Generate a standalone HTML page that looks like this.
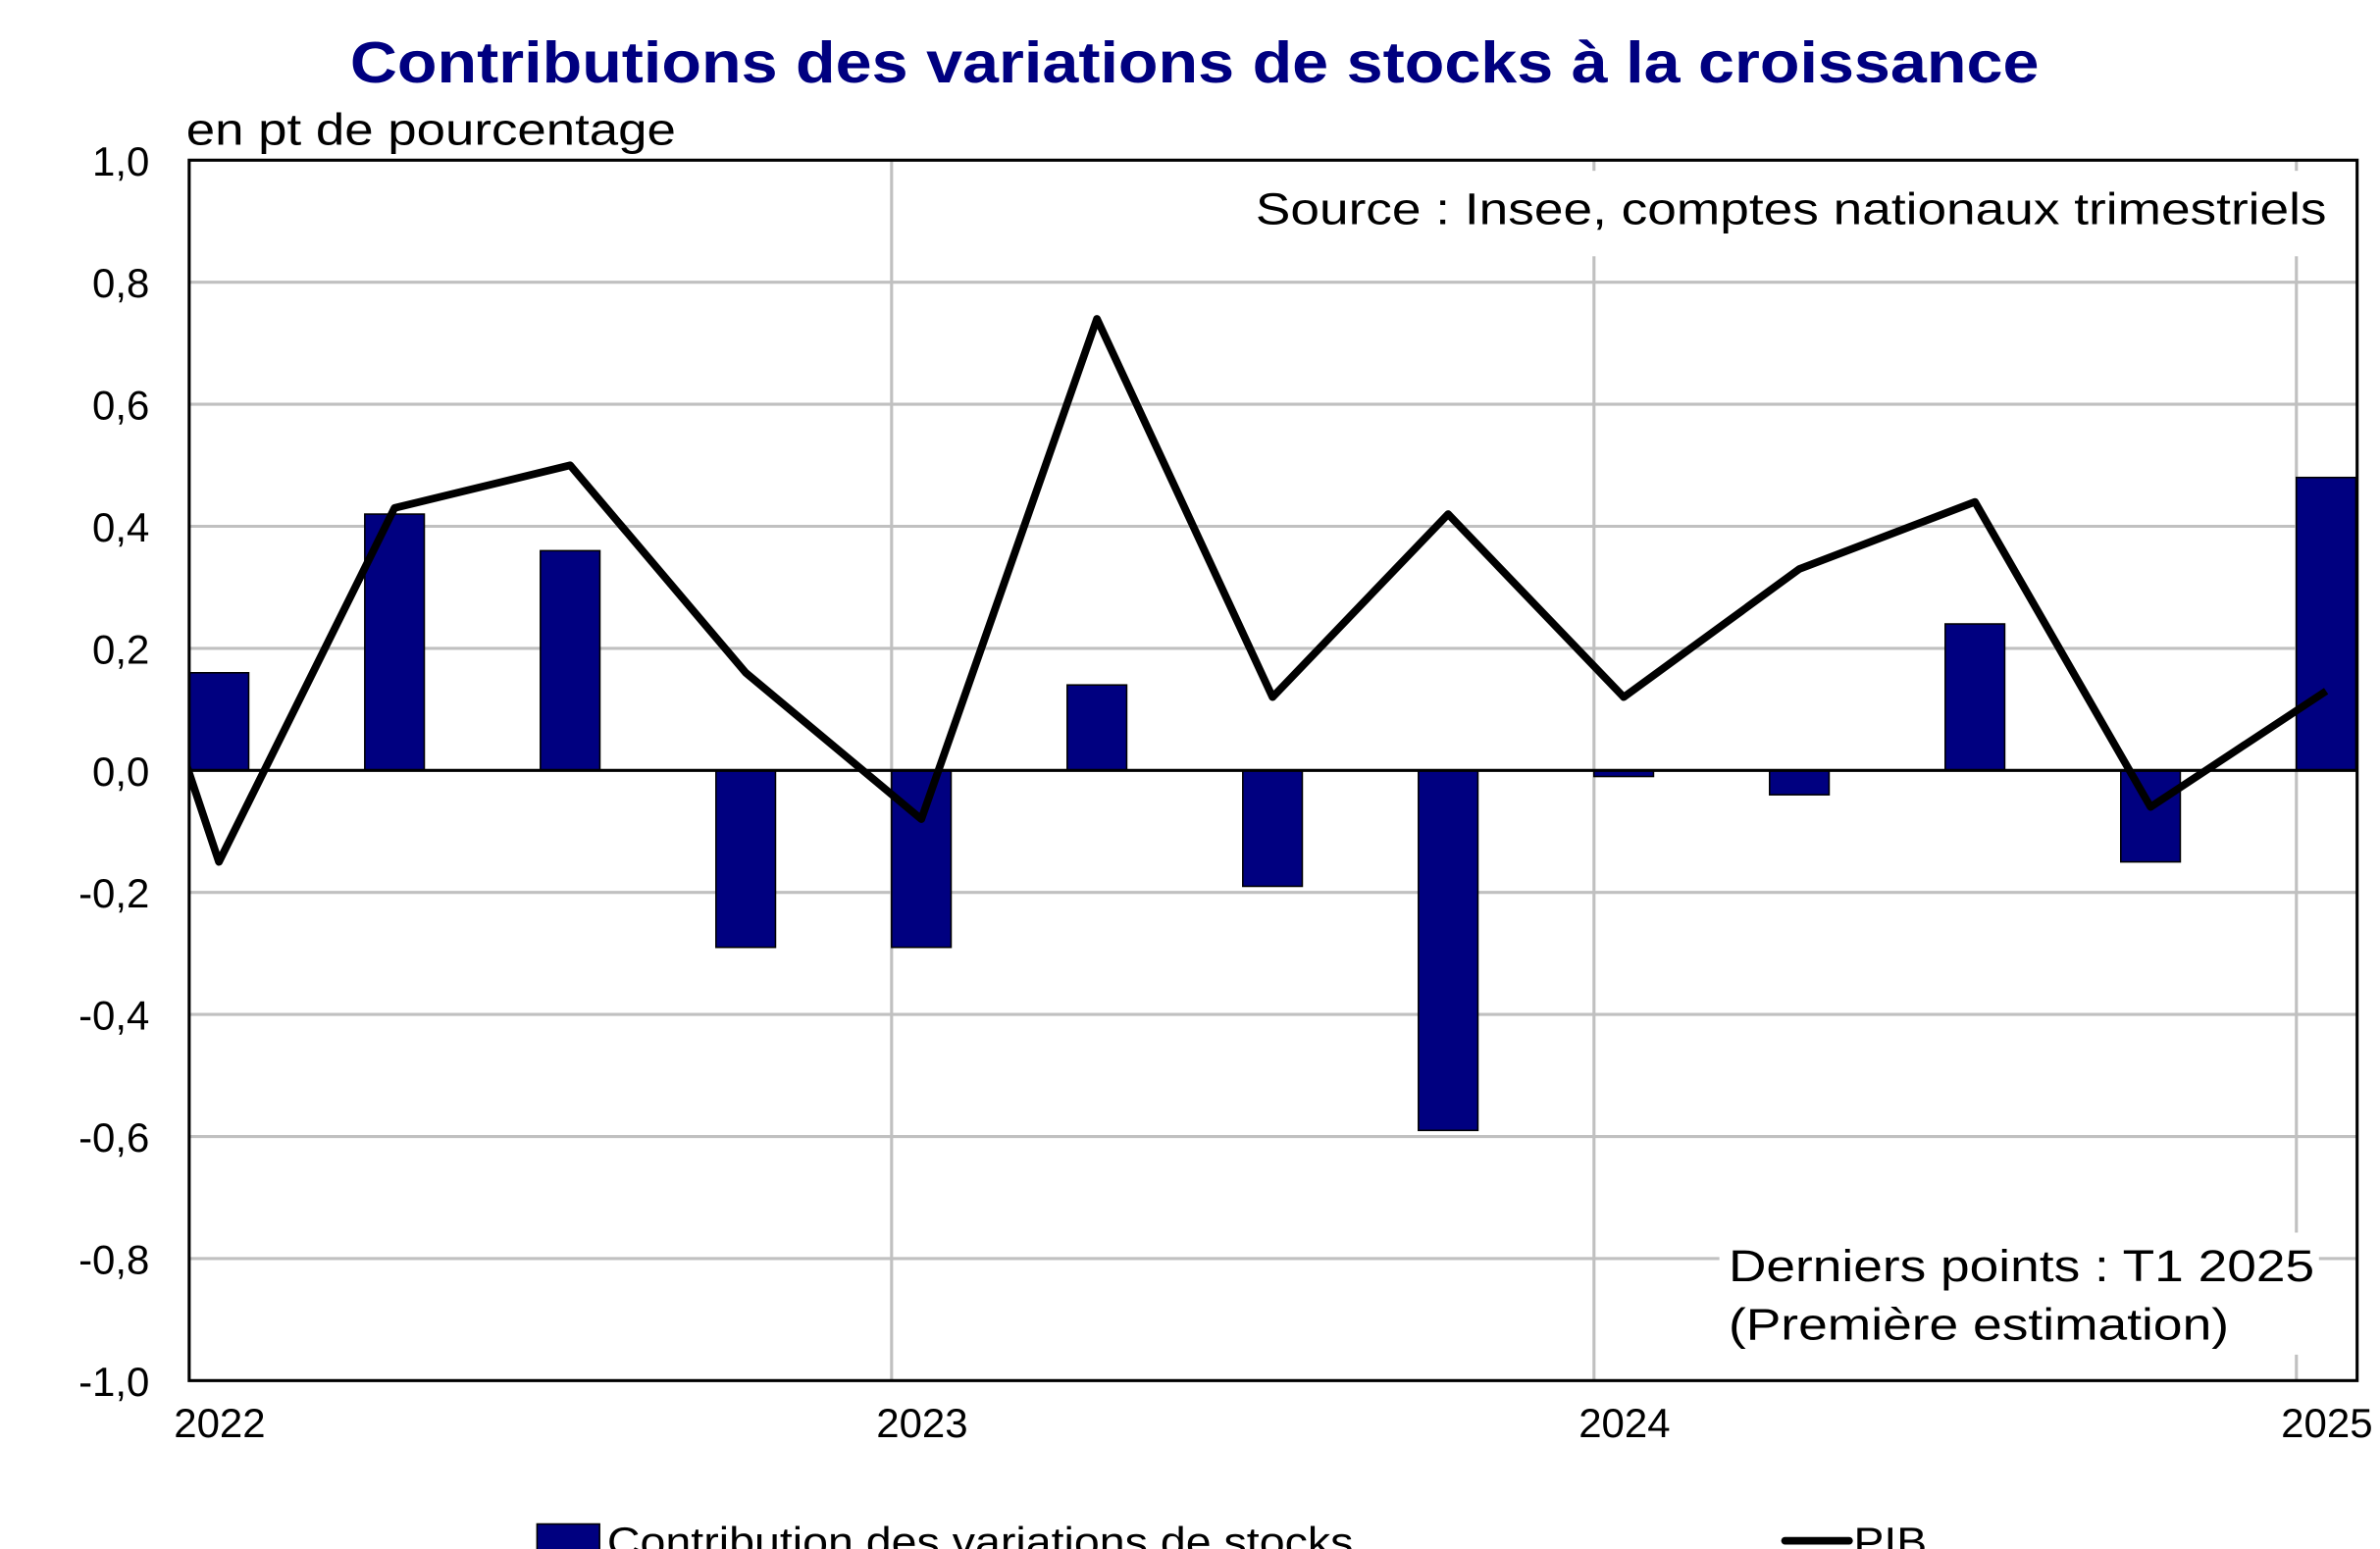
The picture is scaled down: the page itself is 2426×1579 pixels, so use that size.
<!DOCTYPE html>
<html><head><meta charset="utf-8"><style>
html,body{margin:0;padding:0;background:#fff;}
svg{display:block;font-family:"Liberation Sans",Arial,sans-serif;}
</style></head><body>
<svg id="chart" width="2426" height="1579" viewBox="0 0 1560 1015.4" preserveAspectRatio="none" xmlns="http://www.w3.org/2000/svg">
<rect width="1560" height="1016" fill="#fff"/>
<text x="783" y="54" text-anchor="middle" font-size="38" font-weight="bold" fill="#000080" textLength="1107" lengthAdjust="spacingAndGlyphs">Contributions des variations de stocks à la croissance</text>
<text x="122" y="95" font-size="29" textLength="321" lengthAdjust="spacingAndGlyphs">en pt de pourcentage</text>
<g id="grid"></g>
<g id="bars"></g>
<g id="labels"></g>
<rect x="815" y="112" width="720" height="56" fill="#fff"/>
<text x="1525" y="147" text-anchor="end" font-size="29" textLength="702" lengthAdjust="spacingAndGlyphs">Source : Insee, comptes nationaux trimestriels</text>
<rect x="1127" y="808" width="393" height="80" fill="#fff"/>
<text x="1133" y="840" font-size="29" textLength="384" lengthAdjust="spacingAndGlyphs">Derniers points : T1 2025</text>
<text x="1133" y="878" font-size="29" textLength="328" lengthAdjust="spacingAndGlyphs">(Première estimation)</text>
<rect x="124" y="105" width="1421" height="800" fill="none" stroke="#000" stroke-width="2"/>
<g>
<rect x="352" y="999" width="41" height="19" fill="#000080" stroke="#000" stroke-width="1"/>
<text x="398" y="1020" font-size="27" textLength="489" lengthAdjust="spacingAndGlyphs">Contribution des variations de stocks</text>
<line x1="1170" y1="1010" x2="1212" y2="1010" stroke="#000" stroke-width="5" stroke-linecap="round"/>
<text x="1215" y="1020" font-size="27" textLength="48" lengthAdjust="spacingAndGlyphs">PIB</text>
</g>
<script>
const categories = ["2022T1","2022T2","2022T3","2022T4","2023T1","2023T2","2023T3","2023T4","2024T1","2024T2","2024T3","2024T4","2025T1"];
const stockValues = [0.16,0.42,0.36,-0.29,-0.29,0.14,-0.19,-0.59,-0.01,-0.04,0.24,-0.15,0.48];
const pibPrev = 0.71;
const pibValues = [-0.15,0.43,0.50,0.16,-0.08,0.74,0.12,0.42,0.12,0.33,0.44,-0.06,0.13];
const yTicks = [1.0,0.8,0.6,0.4,0.2,0.0,-0.2,-0.4,-0.6,-0.8,-1.0];
const yearLabels = ["2022","2023","2024","2025"];
</script>
<script>
(function(){
const NS="http://www.w3.org/2000/svg";
const L=124,R=1545,T=105,B=905,step=115.1,bw=39;
const y=v=>T+(1-v)/2*(B-T);
const xl=i=>L+i*step;
const xc=i=>xl(i)+bw/2;
function mk(tag,attrs,parent){const e=document.createElementNS(NS,tag);for(const k in attrs)e.setAttribute(k,attrs[k]);parent.appendChild(e);return e;}
const grid=document.getElementById('grid'),bars=document.getElementById('bars'),labels=document.getElementById('labels');
yTicks.forEach(v=>{
  if(Math.abs(v)<1e-9||Math.abs(Math.abs(v)-1)<1e-9) {}
  else { const g=mk('line',{x1:L,x2:R,y1:y(v),y2:y(v),stroke:'#c0c0c0','stroke-width':2},grid);
    
     }
  const t=mk('text',{x:98,y:y(v)+10,'text-anchor':'end','font-size':27},labels);
  
  
  t.textContent=v.toFixed(1).replace('.',',');
});
yearLabels.forEach((s,k)=>{
  const gx=xl(k*4);
  if(k>0){const g=mk('line',{x1:gx,x2:gx,y1:T,y2:B,stroke:'#c0c0c0','stroke-width':2},grid);
    
    }
  const t=mk('text',{x:gx+20,y:942,'text-anchor':'middle','font-size':27},labels);
  
  
  t.textContent=s;
});
stockValues.forEach((v,i)=>{
  const y0=y(0),y1=y(v);
  const r=mk('rect',{x:xl(i),y:Math.min(y0,y1),width:bw,height:Math.abs(y1-y0),fill:'#000080',stroke:'#000','stroke-width':1},bars);
  
  
});
const z=mk('line',{x1:L,x2:R,y1:y(0),y2:y(0),stroke:'#000','stroke-width':2},bars);


const cp=mk('clipPath',{id:'clip'},bars);
mk('rect',{x:L,y:T,width:R-L,height:B-T},cp);
let d='M'+xc(-1)+','+y(pibPrev);
pibValues.forEach((v,i)=>{d+=' L'+xc(i)+','+y(v);});
const p=mk('path',{d:d,fill:'none',stroke:'#000','stroke-width':5,'stroke-linejoin':'round','clip-path':'url(#clip)'},bars);


})();
</script>
</svg>
</body></html>
